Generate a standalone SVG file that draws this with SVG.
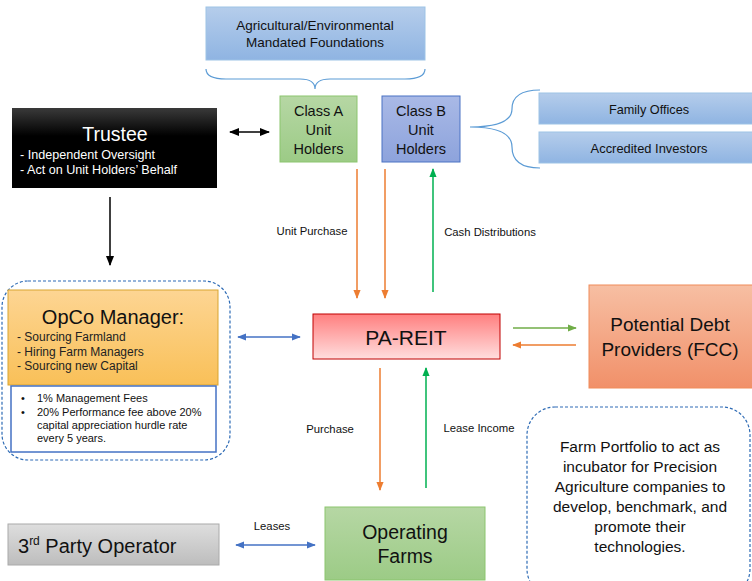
<svg xmlns="http://www.w3.org/2000/svg" width="752" height="581" viewBox="0 0 752 581">
<style>
text{font-family:"Liberation Sans",Arial,sans-serif;fill:#111}
.c{text-anchor:middle}
.lbl{font-size:11.3px}
.dash{fill:none;stroke:#2e6bb5;stroke-width:1.2;stroke-dasharray:3 2}
.brace{fill:none;stroke:#5b9bd5;stroke-width:1.2}
</style>
<defs>
<linearGradient id="gBlue" x1="0" y1="0" x2="0" y2="1"><stop offset="0" stop-color="#b5cdeb"/><stop offset="1" stop-color="#8fb4e2"/></linearGradient>
<linearGradient id="gGreen" x1="0" y1="0" x2="0" y2="1"><stop offset="0" stop-color="#b6d7a4"/><stop offset="1" stop-color="#9ccb86"/></linearGradient>
<linearGradient id="gPurple" x1="0" y1="0" x2="0" y2="1"><stop offset="0" stop-color="#a9b9e6"/><stop offset="1" stop-color="#8da3dc"/></linearGradient>
<linearGradient id="gBlack" x1="0" y1="0" x2="0" y2="1"><stop offset="0" stop-color="#3a3a3a"/><stop offset="0.35" stop-color="#000"/><stop offset="1" stop-color="#000"/></linearGradient>
<linearGradient id="gOrange" x1="0" y1="0" x2="0" y2="1"><stop offset="0" stop-color="#fdd593"/><stop offset="1" stop-color="#f9c058"/></linearGradient>
<linearGradient id="gPink" x1="0" y1="0" x2="0" y2="1"><stop offset="0" stop-color="#ff7f7f"/><stop offset="1" stop-color="#ffdede"/></linearGradient>
<linearGradient id="gSalmon" x1="0" y1="0" x2="0" y2="1"><stop offset="0" stop-color="#f7bfa3"/><stop offset="1" stop-color="#f19069"/></linearGradient>
<linearGradient id="gGrey" x1="0" y1="0" x2="0" y2="1"><stop offset="0" stop-color="#dedede"/><stop offset="1" stop-color="#bdbdbd"/></linearGradient>
<marker id="aBlack" viewBox="0 0 10 10" refX="9" refY="5" markerWidth="7" markerHeight="7" orient="auto-start-reverse"><path d="M0,1 L10,5 L0,9 z" fill="#000"/></marker>
<marker id="aOrange" viewBox="0 0 10 10" refX="9" refY="5" markerWidth="6" markerHeight="6" orient="auto-start-reverse"><path d="M0,1 L10,5 L0,9 z" fill="#ed7d31"/></marker>
<marker id="aGreen" viewBox="0 0 10 10" refX="9" refY="5" markerWidth="6" markerHeight="6" orient="auto-start-reverse"><path d="M0,1 L10,5 L0,9 z" fill="#00b050"/></marker>
<marker id="aLGreen" viewBox="0 0 10 10" refX="9" refY="5" markerWidth="6" markerHeight="6" orient="auto-start-reverse"><path d="M0,1 L10,5 L0,9 z" fill="#70ad47"/></marker>
<marker id="aBlue" viewBox="0 0 10 10" refX="9" refY="5" markerWidth="6" markerHeight="6" orient="auto-start-reverse"><path d="M0,1 L10,5 L0,9 z" fill="#4472c4"/></marker>
</defs>
<rect width="752" height="581" fill="#fff"/>

<g id="foundations">
<rect x="206" y="7" width="219" height="53" fill="url(#gBlue)" stroke="#9dc3e6" stroke-width="1"/>
<text class="c" x="315" y="30" font-size="13.5">Agricultural/Environmental</text>
<text class="c" x="315" y="47" font-size="13.5">Mandated Foundations</text>
<path class="brace" d="M206,69 Q206,79 226,79 L300,79 Q315,79 315,89 Q315,79 330,79 L405,79 Q425,79 425,69"/>
</g>

<g id="trustee">
<rect x="12" y="108" width="205" height="80" fill="url(#gBlack)"/>
<text class="c" x="115" y="141" font-size="19.5" style="fill:#fff">Trustee</text>
<text x="20" y="159" font-size="12.6" style="fill:#fff">- Independent Oversight</text>
<text x="20" y="174" font-size="12.6" style="fill:#fff">- Act on Unit Holders’ Behalf</text>
</g>

<g id="classA">
<rect x="280" y="96" width="77" height="66" fill="url(#gGreen)" stroke="#8cc56f" stroke-width="1"/>
<text class="c" x="318.5" y="116" font-size="14.5">Class A</text>
<text class="c" x="318.5" y="135" font-size="14.5">Unit</text>
<text class="c" x="318.5" y="154" font-size="14.5">Holders</text>
</g>

<g id="classB">
<rect x="382" y="96" width="78" height="66" fill="url(#gPurple)" stroke="#4a72c4" stroke-width="1"/>
<text class="c" x="421" y="116" font-size="14.5">Class B</text>
<text class="c" x="421" y="135" font-size="14.5">Unit</text>
<text class="c" x="421" y="154" font-size="14.5">Holders</text>
</g>

<g id="investors">
<path class="brace" d="M540,90 Q512,90 512,109 Q512,127 470,127 Q512,127 512,147 Q512,168 540,168"/>
<rect x="539" y="93" width="215" height="31" fill="url(#gBlue)" stroke="#9dc3e6" stroke-width="1"/>
<text class="c" x="649" y="114" font-size="12.7">Family Offices</text>
<rect x="539" y="132" width="215" height="31" fill="url(#gBlue)" stroke="#9dc3e6" stroke-width="1"/>
<text class="c" x="649" y="153" font-size="12.9">Accredited Investors</text>
</g>

<g id="opco">
<rect class="dash" x="2" y="281" width="228" height="179" rx="26"/>
<rect x="8" y="290" width="210" height="95" fill="url(#gOrange)" stroke="#d9a530" stroke-width="1"/>
<text class="c" x="113" y="324" font-size="20">OpCo Manager:</text>
<text x="17" y="341" font-size="12" style="fill:#222">- Sourcing Farmland</text>
<text x="17" y="356" font-size="12" style="fill:#222">- Hiring Farm Managers</text>
<text x="17" y="370" font-size="12" style="fill:#222">- Sourcing new Capital</text>
<rect x="11" y="386" width="205" height="66" fill="#fff" stroke="#4472c4" stroke-width="1.5"/>
<text x="21" y="402" font-size="11">•</text><text x="37" y="402" font-size="11">1% Management Fees</text>
<text x="21" y="416" font-size="11">•</text><text x="37" y="416" font-size="11">20% Performance fee above 20%</text>
<text x="37" y="429" font-size="11">capital appreciation hurdle rate</text>
<text x="37" y="442" font-size="11">every 5 years.</text>
</g>

<g id="pareit">
<rect x="313" y="314" width="187" height="45" fill="url(#gPink)" stroke="#c00000" stroke-width="1"/>
<text class="c" x="406" y="345" font-size="21">PA-REIT</text>
</g>

<g id="debt">
<rect x="589" y="285" width="165" height="103" fill="url(#gSalmon)" stroke="#f08c5a" stroke-width="1"/>
<text class="c" x="670" y="331" font-size="19">Potential Debt</text>
<text class="c" x="670" y="356" font-size="19">Providers (FCC)</text>
</g>

<g id="portfolio">
<rect class="dash" x="527" y="407" width="223" height="190" rx="28"/>
<text class="c" x="640" y="452" font-size="15.5">Farm Portfolio to act as</text>
<text class="c" x="640" y="472" font-size="15.5">incubator for Precision</text>
<text class="c" x="640" y="492" font-size="15.5">Agriculture companies to</text>
<text class="c" x="640" y="512" font-size="15.5">develop, benchmark, and</text>
<text class="c" x="640" y="532" font-size="15.5">promote their</text>
<text class="c" x="640" y="552" font-size="15.5">technologies.</text>
</g>

<g id="operator">
<rect x="8" y="524" width="211" height="41" fill="url(#gGrey)" stroke="#aaa" stroke-width="1"/>
<text x="18" y="553" font-size="20">3<tspan font-size="12" dy="-8">rd</tspan><tspan dy="8"> Party Operator</tspan></text>
</g>

<g id="farms">
<rect x="325" y="507" width="160" height="73" fill="url(#gGreen)" stroke="#8cc56f" stroke-width="1"/>
<text class="c" x="405" y="539" font-size="19.5">Operating</text>
<text class="c" x="405" y="563" font-size="19.5">Farms</text>
</g>

<g id="connectors">
<line x1="230" y1="132" x2="269" y2="132" stroke="#000" stroke-width="1.5" marker-start="url(#aBlack)" marker-end="url(#aBlack)"/>
<line x1="110" y1="197" x2="110" y2="265" stroke="#000" stroke-width="1.5" marker-end="url(#aBlack)"/>
<line x1="357" y1="169" x2="357" y2="298" stroke="#ed7d31" stroke-width="1.5" marker-end="url(#aOrange)"/>
<line x1="385" y1="169" x2="385" y2="298" stroke="#ed7d31" stroke-width="1.5" marker-end="url(#aOrange)"/>
<line x1="433" y1="292" x2="433" y2="169" stroke="#00b050" stroke-width="1.5" marker-end="url(#aGreen)"/>
<text class="c lbl" x="312" y="235">Unit Purchase</text>
<text class="c lbl" x="490" y="236">Cash Distributions</text>
<line x1="238" y1="337" x2="300" y2="337" stroke="#4472c4" stroke-width="1.5" marker-start="url(#aBlue)" marker-end="url(#aBlue)"/>
<line x1="513" y1="328" x2="576" y2="328" stroke="#70ad47" stroke-width="1.5" marker-end="url(#aLGreen)"/>
<line x1="576" y1="345" x2="513" y2="345" stroke="#ed7d31" stroke-width="1.5" marker-end="url(#aOrange)"/>
<line x1="380" y1="368" x2="380" y2="490" stroke="#ed7d31" stroke-width="1.5" marker-end="url(#aOrange)"/>
<line x1="426" y1="488" x2="426" y2="368" stroke="#00b050" stroke-width="1.5" marker-end="url(#aGreen)"/>
<text class="c lbl" x="330" y="433">Purchase</text>
<text class="c lbl" x="479" y="432">Lease Income</text>
<line x1="236" y1="545" x2="315" y2="545" stroke="#4472c4" stroke-width="1.5" marker-start="url(#aBlue)" marker-end="url(#aBlue)"/>
<text class="c lbl" x="272" y="530">Leases</text>
</g>
</svg>
